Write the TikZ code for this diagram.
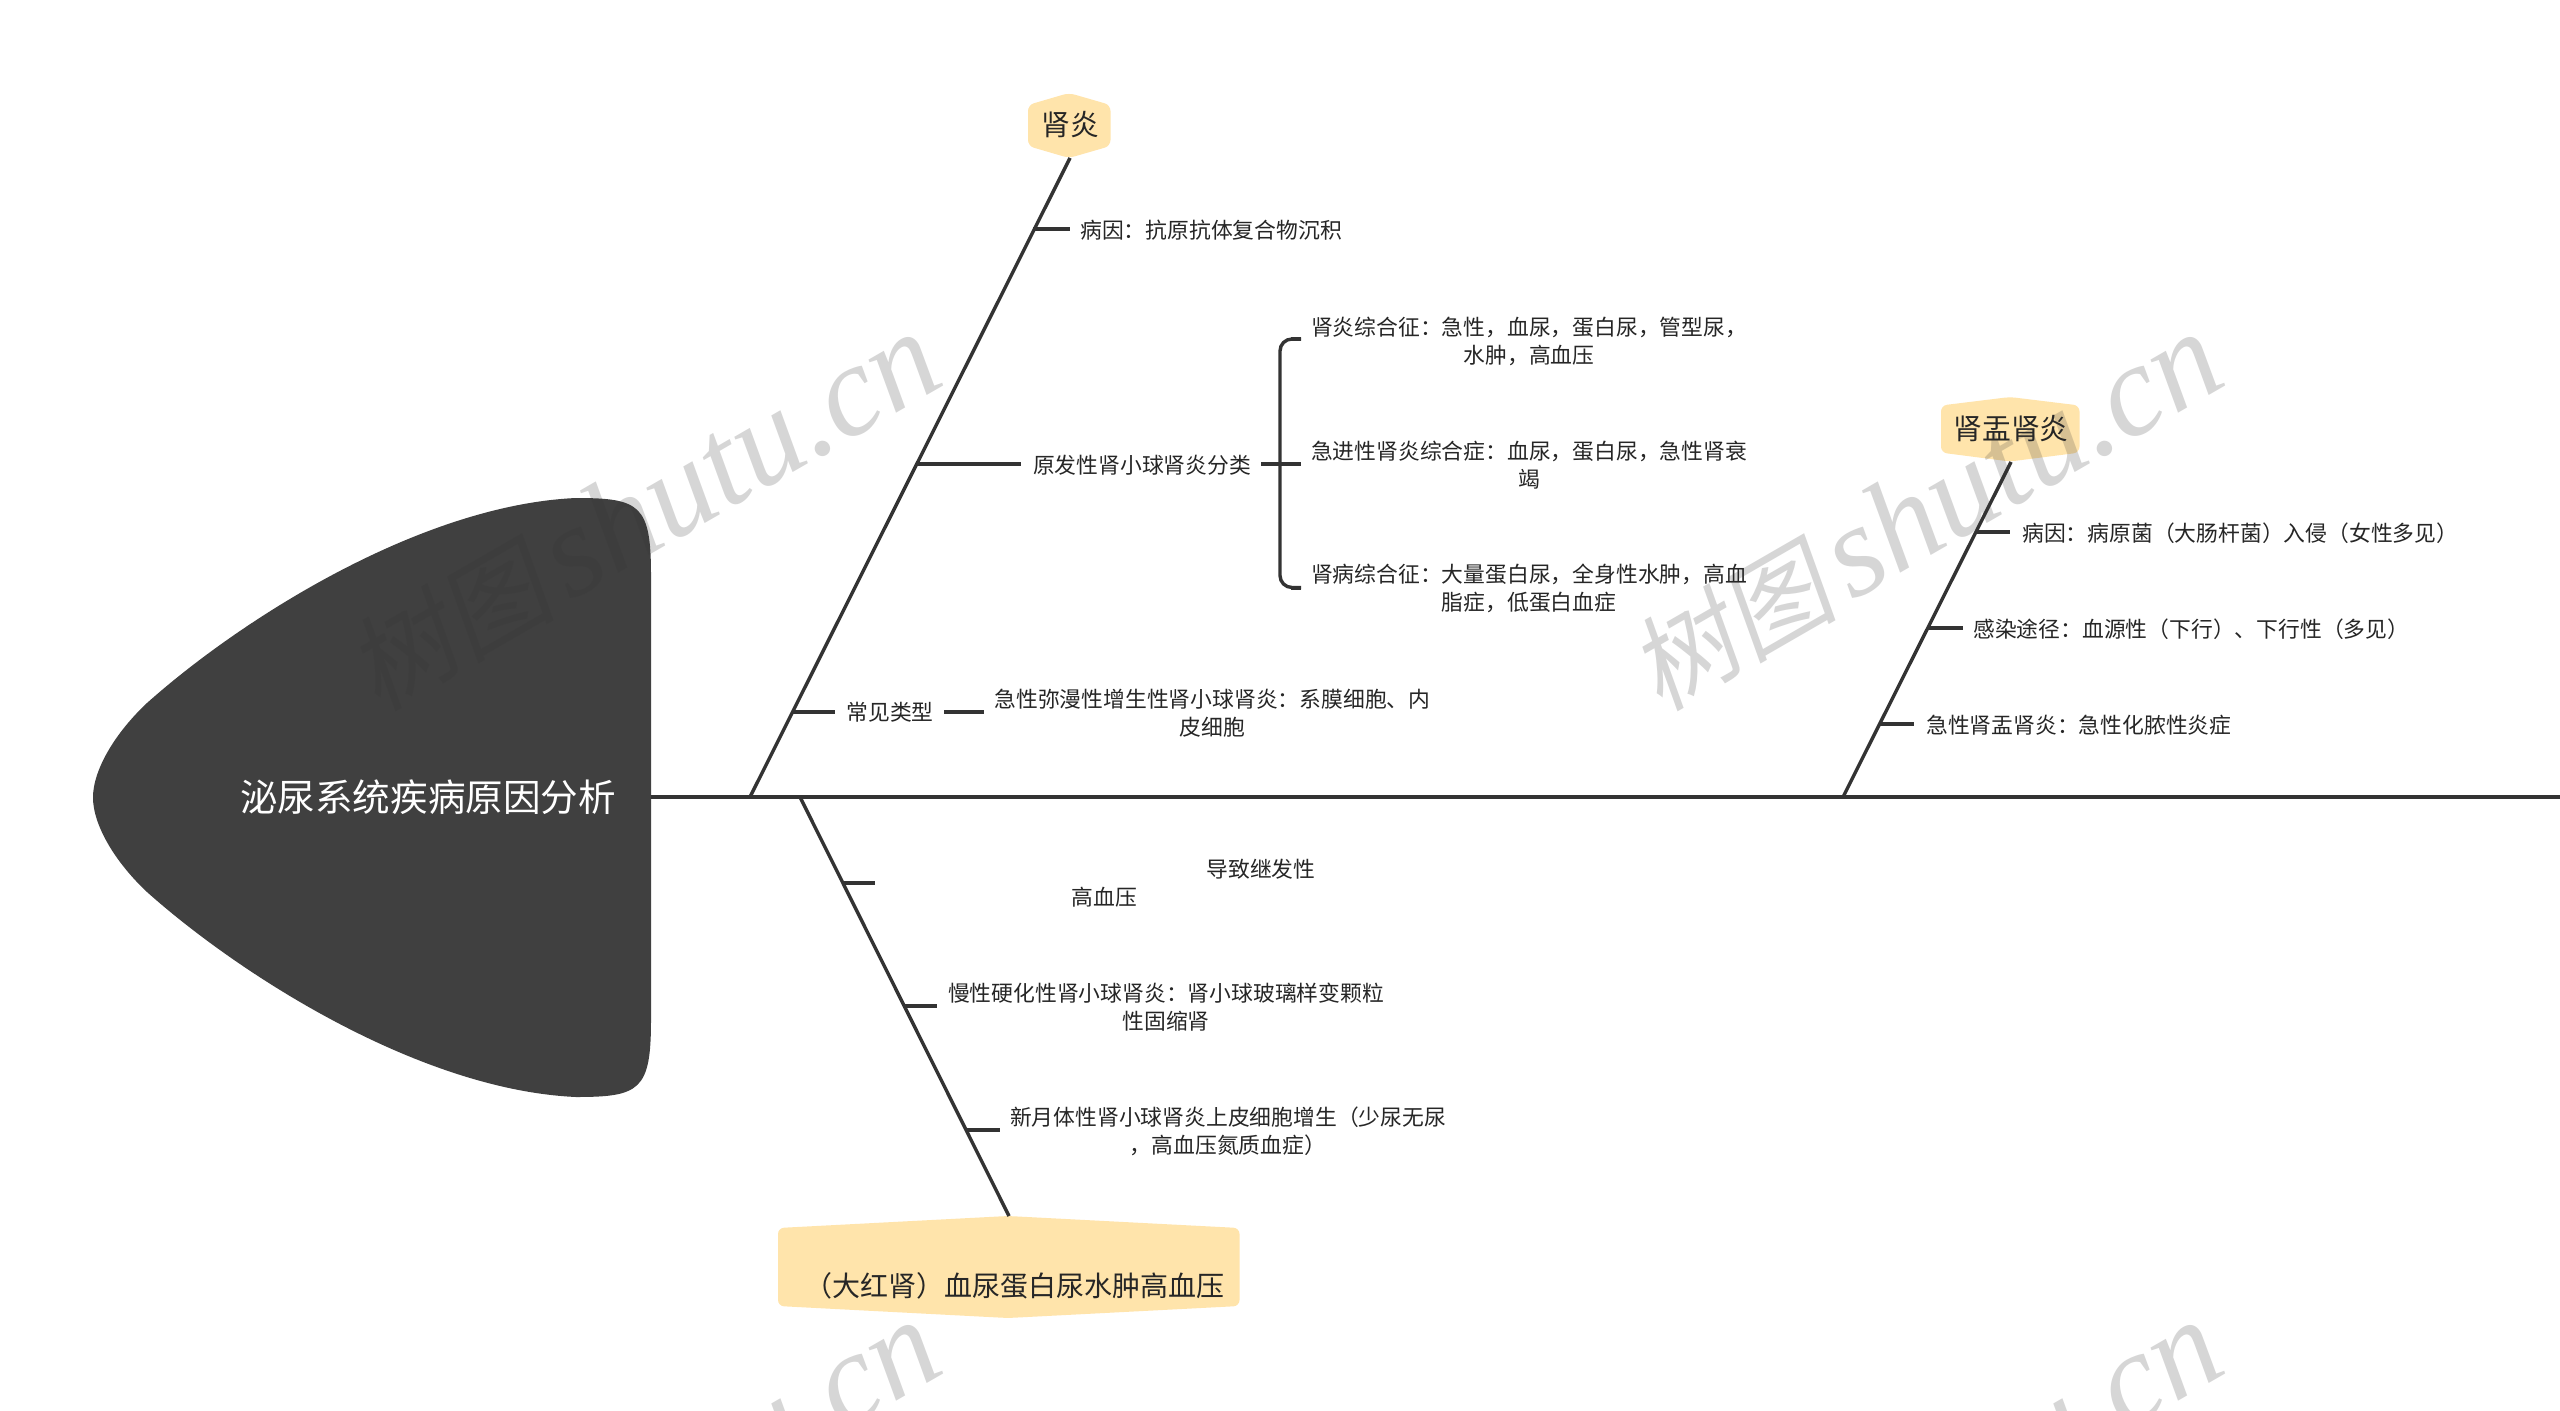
\documentclass[tikz,border=0pt]{standalone}
\usepackage{fontspec}
\setmainfont{Noto Sans CJK SC}
\newfontfamily\wmcjk[FakeSlant=0.18]{Noto Sans CJK SC}
\newfontfamily\wmlat{Liberation Serif}[ItalicFont={Liberation Serif Italic}]
\definecolor{inkdark}{HTML}{333333}
\definecolor{labink}{HTML}{262626}
\definecolor{headfill}{HTML}{404040}
\definecolor{boxfill}{HTML}{FFE4AB}
\newcommand{\wmtext}{{\fontsize{104}{130}\selectfont\wmcjk 树图}\hspace{14pt}{\fontsize{130}{130}\selectfont\wmlat\itshape shutu.cn}}
\tikzset{
  lab/.style={inner sep=0pt,align=center,text=labink,yshift=-1.2pt,font=\fontsize{21.8}{28}\selectfont},
  cat/.style={inner sep=0pt,align=center,text=labink,font=\fontsize{28.8}{34}\selectfont},
  boxshape/.style={fill=boxfill,draw=none,rounded corners=6pt},
  spine/.style={draw=inkdark,line width=3.4pt},
  twig/.style={draw=inkdark,line width=4pt},
  wm/.style={inner sep=0pt,rotate=30,text=black!80,text opacity=.2},
}
\begin{document}
\begin{tikzpicture}[x=1pt,y=-1pt]
\useasboundingbox (0,0) rectangle (2560,1411);
\clip (0,0) rectangle (2560,1411);
\fill[white] (0,0) rectangle (2560,1411);
% head
\fill[headfill] (93,797.5) .. controls (93,770) and (115,733) .. (147,703)
  .. controls (240,620) and (420,505) .. (576,498)
  .. controls (640,498) and (651,505) .. (651,575) -- (651,1020)
  .. controls (651,1090) and (640,1097) .. (576,1097)
  .. controls (420,1090) and (240,975) .. (147,892)
  .. controls (115,862) and (93,825) .. (93,797.5) -- cycle;
\node[inner sep=0pt,text=white,font=\fontsize{37.6}{42}\selectfont] (head) at (428,797) {泌尿系统疾病原因分析};
% shapes behind category labels
\fill[boxshape] (1069,93) -- (1110.5,105) -- (1110.5,146) -- (1069,158) -- (1028,146) -- (1028,105) -- cycle;
\fill[boxshape] (2010,397) -- (2079.5,405.5) -- (2079.5,452.6) -- (2010,461.5) -- (1941,452.6) -- (1941,405.5) -- cycle;
\fill[boxshape] (1008,1216) -- (1239.5,1228) -- (1239.5,1306) -- (1008,1318) -- (778,1306) -- (778,1228) -- cycle;
\node[cat] (nephritis) at (1070,125) {肾炎};
\node[cat] (pyelo) at (2011,429) {肾盂肾炎};
\node[cat,font=\fontsize{28}{34}\selectfont,anchor=east] (redkidney) at (1225,1286) {（大红肾）血尿蛋白尿水肿高血压};
% spine
\coordinate (tail) at (2560,797);
\coordinate (b1) at (750,797);
\coordinate (b2) at (1843,797);
\coordinate (b3) at (800,797);
\coordinate (h1) at (1070,158);
\coordinate (h2) at (2011,462);
\coordinate (h3) at (1009,1216);
\coordinate (headr) at (651,797);
\draw[spine] (headr) -- (tail);
\draw[spine] (b1) -- (h1);
\draw[spine] (b2) -- (h2);
\draw[spine] (b3) -- (h3);
% upper-left branch
\node[lab,anchor=west] (a1) at (1080,229) {病因：抗原抗体复合物沉积};
\coordinate (a1s) at (1033,229); \coordinate (a1e) at (1070,229);
\draw[twig] (a1s) -- (a1e);
\node[lab] (a2) at (1142,463.5) {原发性肾小球肾炎分类};
\coordinate (a2s) at (917,463.5); \coordinate (a2e) at (1021,463.5);
\draw[twig] (a2s) -- (a2e);
\coordinate (a2r) at (1261,463.5); \coordinate (brk) at (1301,463.5);
\draw[twig] (a2r) -- (brk);
\coordinate (brt) at (1301,339); \coordinate (brb) at (1301,587.5);
\draw[draw=inkdark,line width=3.4pt,rounded corners=12pt] (brt) -- (1280,339) -- (1280,587.5) -- (brb);
\draw[twig] (brt) -- (1291,339);
\draw[twig] (brb) -- (1291,587.5);
\node[lab] (a21) at (1529,340) {肾炎综合征：急性，血尿，蛋白尿，管型尿，\\水肿，高血压};
\node[lab] (a22) at (1529,464) {急进性肾炎综合症：血尿，蛋白尿，急性肾衰\\竭};
\node[lab] (a23) at (1529,587.5) {肾病综合征：大量蛋白尿，全身性水肿，高血\\脂症，低蛋白血症};
\node[lab] (a3) at (890,711) {常见类型};
\coordinate (a3s) at (793,711.5); \coordinate (a3e) at (835,711.5);
\draw[twig] (a3s) -- (a3e);
\coordinate (a3r) at (944,711.5); \coordinate (a3t) at (984,711.5);
\draw[twig] (a3r) -- (a3t);
\node[lab] (a31) at (1212.5,711.5) {急性弥漫性增生性肾小球肾炎：系膜细胞、内\\皮细胞};
% lower branch
\coordinate (c1s) at (842,882.5); \coordinate (c1e) at (875,882.5);
\draw[twig] (c1s) -- (c1e);
\node[lab] (c1a) at (1261,868) {导致继发性};
\node[lab] (c1b) at (1104.5,895.5) {高血压};
\coordinate (c2s) at (904,1006); \coordinate (c2e) at (937,1006);
\draw[twig] (c2s) -- (c2e);
\node[lab] (c2) at (1166,1006) {慢性硬化性肾小球肾炎：肾小球玻璃样变颗粒\\性固缩肾};
\coordinate (c3s) at (967,1130); \coordinate (c3e) at (1000,1130);
\draw[twig] (c3s) -- (c3e);
\node[lab] (c3) at (1228,1130.5) {新月体性肾小球肾炎上皮细胞增生（少尿无尿\\，高血压氮质血症）};
% right branch
\coordinate (d1s) at (1975,532); \coordinate (d1e) at (2010,532);
\draw[twig] (d1s) -- (d1e);
\node[lab,anchor=west] (d1) at (2022,532) {病因：病原菌（大肠杆菌）入侵（女性多见）};
\coordinate (d2s) at (1928,628); \coordinate (d2e) at (1962.5,628);
\draw[twig] (d2s) -- (d2e);
\node[lab,anchor=west] (d2) at (1973,628.5) {感染途径：血源性（下行）、下行性（多见）};
\coordinate (d3s) at (1880,724); \coordinate (d3e) at (1914,724);
\draw[twig] (d3s) -- (d3e);
\node[lab,anchor=west] (d3) at (1926,724.5) {急性肾盂肾炎：急性化脓性炎症};
% watermarks
\node[wm] (w1) at (643,512) {\wmtext};
\node[wm] (w2) at (1925,512) {\wmtext};
\node[wm] (w3) at (643,1500) {\wmtext};
\node[wm] (w4) at (1925,1500) {\wmtext};
\end{tikzpicture}
\end{document}
